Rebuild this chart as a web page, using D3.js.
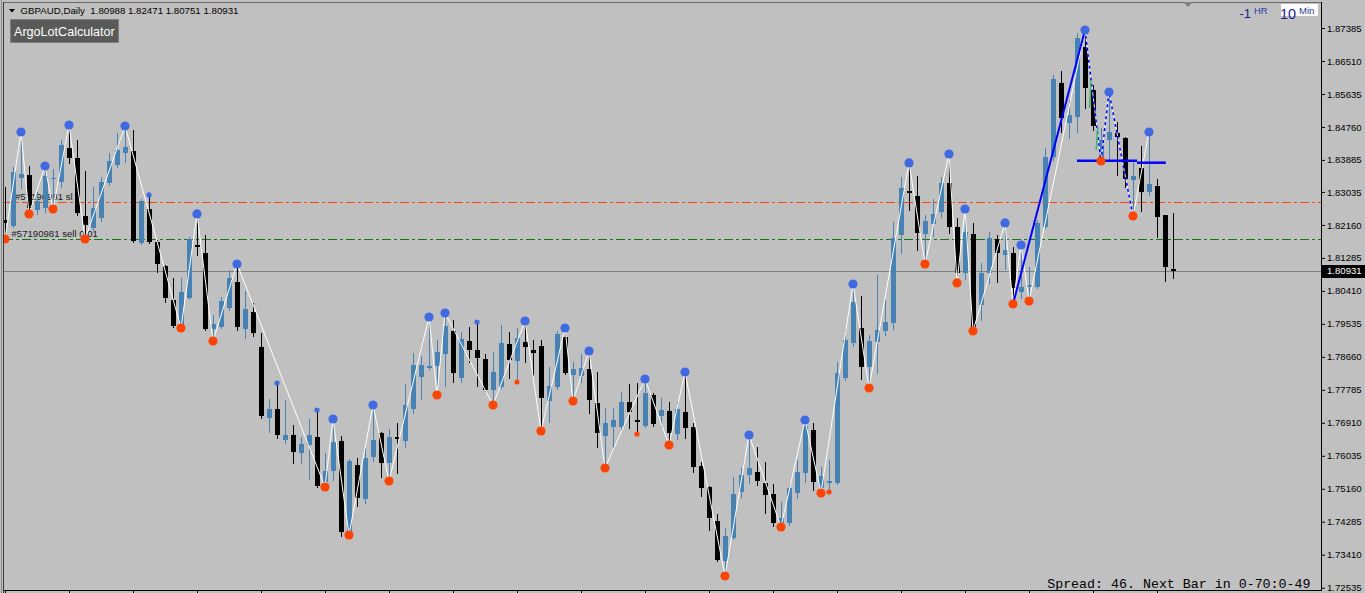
<!DOCTYPE html>
<html><head><meta charset="utf-8">
<script src="https://cdn.jsdelivr.net/npm/d3@7"></script>
<style>html,body{margin:0;padding:0;background:#c0c0c0;overflow:hidden}text{white-space:pre}</style>
</head><body><svg id="c" width="1365" height="593"></svg>
<script>
// ---------- DATA ----------
const symbol = "GBPAUD,Daily";
const opens = [
1.82291,1.82132,1.83406,1.83485,1.82557,1.82610,1.83406,1.83299,1.84202,1.83936,
1.82398,1.82079,1.82344,1.83273,1.83750,1.84069,1.84122,1.81681,1.82583,1.81708,
1.81071,1.80168,1.79478,1.80222,1.81628,1.81416,1.79399,1.79452,1.79956,1.80646,
1.79399,1.79850,1.78921,1.77037,1.77276,1.76454,1.76586,1.76109,1.76321,1.76533,
1.75339,1.75631,1.76427,1.73986,1.75790,1.74888,1.76003,1.76639,1.75844,1.76533,
1.76427,1.77276,1.78125,1.78364,1.78417,1.78735,1.79346,1.78099,1.79080,1.78841,
1.78603,1.77780,1.77860,1.79001,1.78550,1.79054,1.78841,1.78948,1.77489,1.77860,
1.79186,1.78178,1.78152,1.78337,1.77435,1.76560,1.76799,1.76799,1.77462,1.76984,
1.76825,1.77648,1.77091,1.77223,1.76613,1.77197,1.76799,1.75764,1.75207,1.74305,
1.73244,1.73854,1.75074,1.75525,1.75605,1.75313,1.75021,1.74252,1.74252,1.75048,
1.75578,1.76719,1.75180,1.75313,1.75313,1.78099,1.79027,1.79425,1.78390,1.79054,
1.79346,1.79558,1.81893,1.83061,1.82928,1.81920,1.82185,1.82504,1.83273,1.82106,
1.80885,1.81920,1.80035,1.80885,1.81787,1.81363,1.81416,1.80381,1.80514,1.80514,
1.82106,1.83963,1.85926,1.84865,1.85024,1.86881,1.85740,1.83883,1.84414,1.84599,
1.84467,1.83352,1.83671,1.83034,1.83193,1.82424,1.80988];
const highs = [
1.83167,1.83697,1.84626,1.83724,1.83034,1.83724,1.83644,1.84414,1.84812,1.84414,
1.83591,1.83167,1.83432,1.84069,1.84599,1.84785,1.84679,1.82848,1.82955,1.81761,
1.81097,1.80753,1.80753,1.81840,1.82451,1.81893,1.79770,1.80248,1.80965,1.81124,
1.80408,1.80088,1.79292,1.77541,1.77966,1.77515,1.76852,1.76533,1.77011,1.77250,
1.76109,1.77011,1.76560,1.75950,1.75976,1.76268,1.77382,1.76666,1.76746,1.76905,
1.77939,1.78762,1.78682,1.79717,1.79107,1.79823,1.79637,1.79319,1.79452,1.79584,
1.78735,1.78788,1.79505,1.79319,1.79425,1.79611,1.79107,1.79107,1.78390,1.79346,
1.79425,1.78523,1.78735,1.78815,1.78258,1.77303,1.77303,1.77727,1.77939,1.77966,
1.78072,1.77701,1.77568,1.77462,1.77462,1.78258,1.76905,1.75870,1.75233,1.74491,
1.74119,1.75472,1.75711,1.76586,1.76268,1.75870,1.75286,1.74809,1.75260,1.75923,
1.76984,1.76905,1.75737,1.75923,1.78523,1.79399,1.80593,1.80275,1.79239,1.80832,
1.80168,1.82238,1.83432,1.83804,1.83459,1.82424,1.82848,1.83432,1.84042,1.82344,
1.82583,1.82212,1.81151,1.81973,1.81893,1.82212,1.81575,1.81628,1.81044,1.82291,
1.84202,1.86138,1.86244,1.85475,1.87252,1.87332,1.85873,1.84732,1.85687,1.84891,
1.84493,1.83830,1.84255,1.84626,1.83379,1.82424,1.82471];
const lows = [
1.81787,1.82106,1.83140,1.82451,1.82451,1.82504,1.82583,1.83167,1.83804,1.82424,
1.81787,1.82026,1.82265,1.83220,1.83697,1.83830,1.81708,1.81655,1.81681,1.80912,
1.80115,1.79452,1.79425,1.80195,1.81363,1.79372,1.79080,1.79425,1.79903,1.79372,
1.79160,1.79213,1.77037,1.76666,1.76507,1.76374,1.75844,1.75844,1.75419,1.75207,
1.75207,1.75392,1.73907,1.73933,1.74703,1.74782,1.75897,1.75472,1.75366,1.75578,
1.76268,1.77170,1.77541,1.78337,1.77648,1.77886,1.77992,1.77992,1.78523,1.77886,
1.77754,1.77382,1.77833,1.78099,1.77992,1.78523,1.78178,1.76693,1.76931,1.77807,
1.78205,1.77489,1.77992,1.77170,1.76268,1.75711,1.76268,1.76693,1.76772,1.76613,
1.76799,1.76825,1.76825,1.76321,1.76480,1.76507,1.75605,1.74968,1.74066,1.73244,
1.72846,1.73827,1.74941,1.75313,1.75260,1.74517,1.74172,1.74146,1.74199,1.74915,
1.75339,1.75127,1.75048,1.75074,1.75286,1.78045,1.78948,1.78072,1.77833,1.78231,
1.79239,1.79399,1.81416,1.82557,1.81495,1.81124,1.81867,1.82371,1.81946,1.80620,
1.80726,1.79346,1.79637,1.80620,1.80646,1.80991,1.80062,1.80222,1.80142,1.80487,
1.82079,1.83883,1.84626,1.84467,1.84626,1.85263,1.84679,1.83857,1.83883,1.83485,
1.83167,1.82398,1.82530,1.82955,1.81840,1.80673,1.80751];
const closes = [
1.82212,1.83565,1.83512,1.82610,1.82796,1.83459,1.83406,1.84281,1.83936,1.82477,
1.82159,1.82610,1.83299,1.83857,1.84148,1.84228,1.81734,1.82796,1.81708,1.81124,
1.80222,1.79478,1.80381,1.81787,1.81575,1.79399,1.79531,1.80142,1.80753,1.79452,
1.79929,1.79292,1.77091,1.77276,1.76586,1.76586,1.76135,1.76348,1.76586,1.75233,
1.75631,1.76401,1.74013,1.75897,1.74915,1.75976,1.76454,1.75844,1.76533,1.76480,
1.77382,1.78443,1.78443,1.78417,1.78788,1.79478,1.78231,1.79133,1.78841,1.78629,
1.77780,1.78258,1.79027,1.78576,1.79160,1.78921,1.78762,1.77568,1.77886,1.79266,
1.78231,1.78337,1.78364,1.77515,1.76639,1.76905,1.76984,1.77462,1.77197,1.76931,
1.77701,1.76878,1.77250,1.76639,1.77276,1.76772,1.75737,1.75180,1.74384,1.73270,
1.73907,1.75021,1.75525,1.75711,1.75366,1.74995,1.74252,1.74384,1.75180,1.75605,
1.76825,1.75339,1.75499,1.75366,1.78231,1.79107,1.80115,1.78390,1.79080,1.79372,
1.79584,1.81814,1.83140,1.83008,1.81946,1.82265,1.82451,1.83273,1.82106,1.80885,
1.81973,1.79452,1.80885,1.81814,1.81416,1.81495,1.80487,1.80514,1.80567,1.82212,
1.83963,1.86032,1.84997,1.85077,1.87120,1.85793,1.84785,1.84414,1.84626,1.84493,
1.83379,1.83459,1.83034,1.83246,1.82371,1.81044,1.80931];
const priceTicks = [1.87385,1.86510,1.85635,1.84760,1.83885,1.83035,1.82160,1.81285,1.80410,
  1.79535,1.78660,1.77785,1.76910,1.76035,1.75160,1.74285,1.73410,1.72535];
// swing points (bar indices)
const zzHighIdx = [2,5,8,15,24,29,41,46,53,55,65,70,73,80,85,93,100,106,113,118,120,125,127,135,138,143];
const zzLowIdx  = [0,3,6,10,22,26,40,43,48,54,61,67,71,75,83,90,97,102,108,115,119,121,126,128,137,141];
const minorHighIdx = [18,34,39,59];
const minorLowIdx  = [64,79,103];
// blue trend line: from a swing low bar to a swing high bar
const trendFromIdx = 126, trendToIdx = 135;
const dashedLegIdx = [135,137,138,141];
// blue horizontal levels
const levelPrices = [1.83864, 1.83811];
const levelFrom = [134, 141.5];
const levelTo = [141.5, 145.1];
// small green segments
const greenSegs = [[135.56,1.85263,135.75,1.86006],[136.4,1.84148,136.6,1.84759]];
// order lines
const orderPrices = [1.82761, 1.81779];
const orderLabels = ["#57190981 sl", "#57190981 sell 0.01"];
const spreadText = "Spread: 46. Next Bar in 0-70:0-49";

// ---------- DRAW ----------
const N = opens.length;
const svg = d3.select("#c");
const font = "'Liberation Sans', Arial, sans-serif";
svg.append("rect").attr("width",1365).attr("height",593).attr("fill","#c0c0c0");

const x = d3.scaleLinear().domain([0, N-1]).range([5, 1173]);
const y = d3.scaleLinear().domain([1.72535, 1.87385]).range([587.7, 28]);
const cy = p => Math.round(y(p));

svg.append("defs").append("clipPath").attr("id","plot")
  .append("rect").attr("x",4).attr("y",3).attr("width",1317).attr("height",587);
const plot = svg.append("g").attr("clip-path","url(#plot)");

// order lines
const orderColors = ["#ff4500","#0b7d0b"];
plot.selectAll("line.order").data(orderPrices).join("line").attr("class","order")
  .attr("x1",4).attr("x2",1321).attr("y1",d=>cy(d)+0.5).attr("y2",d=>cy(d)+0.5)
  .attr("stroke",(d,i)=>orderColors[i]).attr("stroke-width",1).attr("stroke-dasharray","9,3,3,3");
plot.selectAll("text.order").data(orderPrices).join("text").attr("class","order")
  .attr("x",(d,i)=>i===0?15:11.5).attr("y",d=>cy(d)-2.5)
  .attr("font-family",font).attr("font-size",9.6).attr("fill","#1a1a1a")
  .text((d,i)=>orderLabels[i]);

// current price line
const last = closes[N-1];
plot.append("line").attr("x1",4).attr("x2",1321).attr("y1",cy(last)+0.5).attr("y2",cy(last)+0.5)
  .attr("stroke","#808080").attr("stroke-width",1);

// candles
const idx = d3.range(N);
const up = "#4682b4", dn = "#000000";
const cg = plot.append("g").attr("shape-rendering","crispEdges");
cg.selectAll("line.wick").data(idx).join("line").attr("class","wick")
  .attr("x1",i=>Math.round(x(i))+0.5).attr("x2",i=>Math.round(x(i))+0.5)
  .attr("y1",i=>cy(highs[i])).attr("y2",i=>cy(lows[i])+1)
  .attr("stroke",i=>closes[i]>=opens[i]?up:dn).attr("stroke-width",1);
cg.selectAll("rect.body").data(idx).join("rect").attr("class","body")
  .attr("x",i=>Math.round(x(i))-2).attr("width",5)
  .attr("y",i=>cy(Math.max(opens[i],closes[i])))
  .attr("height",i=>Math.max(1, cy(Math.min(opens[i],closes[i]))-cy(Math.max(opens[i],closes[i]))))
  .attr("fill",i=>closes[i]>=opens[i]?up:dn);

// zigzag
const zz = zzHighIdx.map(i=>({i,p:highs[i]})).concat(zzLowIdx.map(i=>({i,p:lows[i]}))).sort((a,b)=>a.i-b.i);
const line = d3.line().x(d=>x(d.i)).y(d=>y(d.p));
plot.append("path").attr("d",line(zz)).attr("fill","none").attr("stroke","#ffffff").attr("stroke-width",1);

// blue trend line
plot.append("path").attr("d",line([{i:trendFromIdx,p:lows[trendFromIdx]},{i:trendToIdx,p:highs[trendToIdx]}]))
  .attr("fill","none").attr("stroke","#0000ff").attr("stroke-width",2);
// blue dashed legs
const legPts = dashedLegIdx.map(i=>({i,p: zzHighIdx.includes(i)?highs[i]:lows[i]}));
plot.append("path").attr("d",line(legPts)).attr("fill","none").attr("stroke","#0000ff")
  .attr("stroke-width",1.5).attr("stroke-dasharray","3,3");
// blue levels
plot.selectAll("line.level").data(levelPrices).join("line").attr("class","level")
  .attr("x1",(d,k)=>x(levelFrom[k])).attr("x2",(d,k)=>x(levelTo[k]))
  .attr("y1",d=>y(d)).attr("y2",d=>y(d)).attr("stroke","#0000ff").attr("stroke-width",2.5);
// green segments
plot.selectAll("line.green").data(greenSegs).join("line").attr("class","green")
  .attr("x1",d=>x(d[0])).attr("y1",d=>y(d[1])).attr("x2",d=>x(d[2])).attr("y2",d=>y(d[3]))
  .attr("stroke","#3cb371").attr("stroke-width",1.5);

// dots
const blue = "#4169e1", red = "#ff4500";
plot.selectAll("circle.zh").data(zzHighIdx).join("circle").attr("cx",i=>x(i)).attr("cy",i=>y(highs[i])).attr("r",4.6).attr("fill",blue);
plot.selectAll("circle.zl").data(zzLowIdx).join("circle").attr("cx",i=>x(i)).attr("cy",i=>y(lows[i])).attr("r",4.6).attr("fill",red);
plot.selectAll("circle.mh").data(minorHighIdx).join("circle").attr("cx",i=>x(i)).attr("cy",i=>y(highs[i])).attr("r",2.6).attr("fill",blue);
plot.selectAll("circle.ml").data(minorLowIdx).join("circle").attr("cx",i=>x(i)).attr("cy",i=>y(lows[i])).attr("r",2.6).attr("fill",red);

// frame
const fr = svg.append("g").attr("shape-rendering","crispEdges");
fr.append("line").attr("x1",1.5).attr("x2",1.5).attr("y1",0).attr("y2",593).attr("stroke","#8a8a8a");
fr.append("line").attr("x1",3.5).attr("x2",3.5).attr("y1",2).attr("y2",593).attr("stroke","#3a3a3a");
fr.append("line").attr("x1",3.5).attr("x2",1321.5).attr("y1",2.5).attr("y2",2.5).attr("stroke","#6a6a6a");

// y axis
const yAxis = d3.axisRight(y).tickValues(priceTicks).tickSize(4).tickPadding(2).tickFormat(d3.format(".5f"));
const ya = svg.append("g").attr("transform","translate(1321,0)").call(yAxis);
ya.select(".domain").remove();
ya.selectAll("line").attr("stroke","#000");
ya.selectAll("text").attr("font-family",font).attr("font-size",9.6).attr("fill","#000");
fr.append("line").attr("x1",1321.5).attr("x2",1321.5).attr("y1",2).attr("y2",591).attr("stroke","#000");

// x axis
const xAxis = d3.axisBottom(x).tickValues(d3.range(0,N,8)).tickSize(3).tickFormat("");
const xa = svg.append("g").attr("transform","translate(0,590)").call(xAxis);
xa.select(".domain").remove();
xa.selectAll("line").attr("stroke","#000");
fr.append("line").attr("x1",4).attr("x2",1321.5).attr("y1",590.5).attr("y2",590.5).attr("stroke","#000");

// current price tag
svg.append("rect").attr("x",1322).attr("y",cy(last)-6).attr("width",43).attr("height",13).attr("fill","#000");
svg.append("text").attr("x",1327).attr("y",cy(last)+0.5).attr("dominant-baseline","middle")
  .attr("font-family",font).attr("font-size",9.6).attr("fill","#fff").text(d3.format(".5f")(last));

// header
svg.append("path").attr("d","M9,9 L15,9 L12,12.5 Z").attr("fill","#000");
const f5 = d3.format(".5f");
svg.append("text").attr("x",20.5).attr("y",13.8).attr("font-family",font).attr("font-size",9.7).attr("fill","#000")
  .text(symbol+"  "+[opens[N-1],highs[N-1],lows[N-1],closes[N-1]].map(f5).join(" "));

// button
svg.append("rect").attr("x",10.5).attr("y",19.5).attr("width",108).attr("height",23)
  .attr("fill","#5a5a5a").attr("stroke","#7e7e7e");
svg.append("text").attr("x",14).attr("y",35.5).attr("font-family",font).attr("font-size",12.6).attr("fill","#fff").text("ArgoLotCalculator");

// top-right widgets
svg.append("path").attr("d","M1183,2 L1193,2 L1188,7 Z").attr("fill","#808080");
svg.append("text").attr("x",1239.5).attr("y",18).attr("font-family",font).attr("font-size",13).attr("fill","#1a1a8c").text("-1");
svg.append("text").attr("x",1254).attr("y",14).attr("font-family",font).attr("font-size",9.5).attr("fill","#2b3aa8").text("HR");
svg.append("rect").attr("x",1281).attr("y",4).attr("width",37).attr("height",12).attr("fill","#fff");
svg.append("text").attr("x",1280).attr("y",18.5).attr("font-family",font).attr("font-size",14.5).attr("fill","#1a1a8c").text("10");
svg.append("text").attr("x",1299).attr("y",14).attr("font-family",font).attr("font-size",9.5).attr("fill","#2b3aa8").text("Min");

// spread text
svg.append("text").attr("x",1310.5).attr("y",587.5).attr("text-anchor","end")
  .attr("font-family","'Liberation Mono', 'Courier New', monospace").attr("font-size",13.3).attr("fill","#000")
  .text(spreadText);
</script></body></html>
